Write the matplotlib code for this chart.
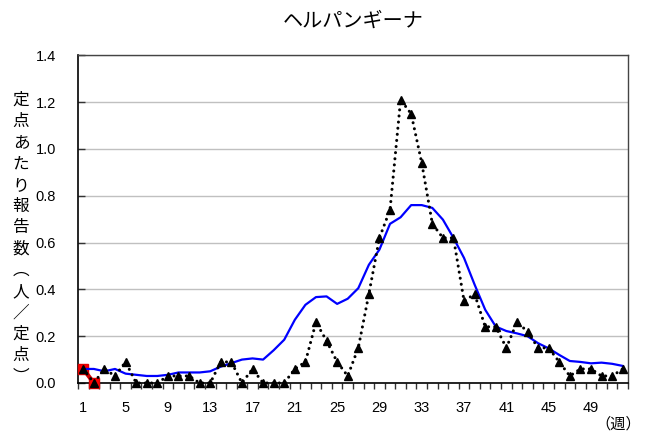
import matplotlib
matplotlib.use("Agg")
import matplotlib.pyplot as plt
import numpy as np

weeks = list(range(1, 53))
prev_year = [0.06, 0.00, 0.06, 0.03, 0.09, 0.00, 0.00, 0.00, 0.03, 0.03,
             0.03, 0.00, 0.00, 0.09, 0.09, 0.00, 0.06, 0.00, 0.00, 0.00,
             0.06, 0.09, 0.26, 0.18, 0.09, 0.03, 0.15, 0.38, 0.62, 0.74,
             1.21, 1.15, 0.94, 0.68, 0.62, 0.62, 0.35, 0.38, 0.24, 0.24,
             0.15, 0.26, 0.22, 0.15, 0.15, 0.09, 0.03, 0.06, 0.06, 0.03,
             0.03, 0.06]
avg_5yr = [0.060, 0.060, 0.050, 0.060, 0.040, 0.035, 0.030, 0.030, 0.035, 0.045,
           0.045, 0.045, 0.050, 0.070, 0.085, 0.100, 0.105, 0.100, 0.140, 0.185,
           0.270, 0.334, 0.367, 0.370, 0.338, 0.360, 0.405, 0.505, 0.570, 0.680,
           0.708, 0.760, 0.760, 0.748, 0.698, 0.620, 0.534, 0.420, 0.313, 0.241,
           0.222, 0.212, 0.200, 0.170, 0.148, 0.120, 0.094, 0.090, 0.084, 0.087,
           0.082, 0.073]
this_weeks = [1, 2]
this_year = [0.06, 0.00]

xtick_labels = ["1", "5", "9", "13", "17", "21", "25", "29", "33", "37", "41", "45", "49"]
ytick_vals = [0.0, 0.2, 0.4, 0.6, 0.8, 1.0, 1.2, 1.4]
title = "ヘルパンギーナ"
ylabel = "定点あたり報告数︵人／定点︶"
xunit = "（週）"

W, H = 649, 446
fig = plt.figure(figsize=(W / 100, H / 100), dpi=100)
ax = fig.add_axes([78 / W, 1 - 383 / H, (628 - 78) / W, (383 - 55.3) / H])

num_font = ["Liberation Sans", "DejaVu Sans"]
jp_font = ["Noto Sans CJK JP", "DejaVu Sans"]

ax.plot(this_weeks, this_year, color="#d00000", lw=3, marker="s", ms=7.5,
        mfc="#ff0000", mec="#e00000", zorder=3, clip_on=False)
ax.plot(weeks, avg_5yr, color="#0000ff", lw=1.6, zorder=4)
ax.plot(weeks, prev_year, color="black", lw=2.2, linestyle=(0, (0.01, 2.0)),
        dash_capstyle="round", zorder=5, clip_on=False)
ax.plot(weeks, prev_year, linestyle="none", marker="^", ms=6,
        mfc="black", mec="black", zorder=6, clip_on=False)

ax.set_xlim(0.5, 52.5)
ax.set_ylim(0, 1.4)
ax.set_yticks(ytick_vals)
ax.set_yticklabels([f"{v:.1f}" for v in ytick_vals], fontfamily=num_font, fontsize=10.5)
ax.tick_params(axis="y", direction="in", length=5, width=1, color="#333333", pad=16)
ax.set_xticks(np.arange(0.5, 53, 1.0))
ax.set_xticklabels([])
ax.tick_params(axis="x", direction="out", length=4, width=1, color="#333333")
ax.set_xticks([int(l) for l in xtick_labels], minor=True)
ax.set_xticklabels(xtick_labels, minor=True, fontfamily=num_font, fontsize=10.5)
ax.tick_params(axis="x", which="minor", length=0, pad=13)

ax.grid(axis="y", color="#c0c0c0", lw=1)
ax.set_axisbelow(True)
for side in ["left", "bottom"]:
    ax.spines[side].set_color("black")
    ax.spines[side].set_linewidth(1.2)
for side in ["top", "right"]:
    ax.spines[side].set_color("#444444")
    ax.spines[side].set_linewidth(1)

fig.text(353 / W, 1 - 21 / H, title, ha="center", va="center",
         fontfamily=jp_font, fontsize=14.5)

y0, dy = 100, 21.3
for i, ch in enumerate(ylabel):
    fig.text(21 / W, 1 - (y0 + i * dy) / H, ch, ha="center", va="center",
             fontfamily=jp_font, fontsize=12)

fig.text(641 / W, 1 - 424 / H, xunit, ha="right", va="center",
         fontfamily=jp_font, fontsize=11)

fig.savefig("out.png", dpi=100)
